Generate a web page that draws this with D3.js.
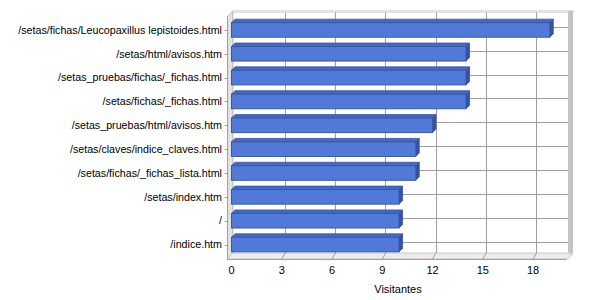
<!DOCTYPE html>
<html>
<head>
<meta charset="utf-8">
<script src="https://cdn.jsdelivr.net/npm/d3@7"></script>
<style>
  body { margin: 0; background: #fff; }
  text { font-family: "Liberation Sans", Arial, sans-serif; font-size: 11px; fill: #000; }
</style>
</head>
<body>
<div id="chart"></div>
<script>
const pages = [
  "/setas/fichas/Leucopaxillus lepistoides.html",
  "/setas/html/avisos.htm",
  "/setas_pruebas/fichas/_fichas.html",
  "/setas/fichas/_fichas.html",
  "/setas_pruebas/html/avisos.htm",
  "/setas/claves/indice_claves.html",
  "/setas/fichas/_fichas_lista.html",
  "/setas/index.htm",
  "/",
  "/indice.htm"
];
const visitors = [19, 14, 14, 14, 12, 11, 11, 10, 10, 10];
const xTicks = [0, 3, 6, 9, 12, 15, 18];

const width = 600, height = 300;
const depth = 3;      // back plane offset
const barDepth = 3.5; // bar 3d offset

const svg = d3.select("#chart").append("svg")
  .attr("width", width)
  .attr("height", height);

const x = d3.scaleLinear().domain([0, 20]).range([231.5, 566.5]);
const y = d3.scaleBand()
  .domain(pages)
  .range([18, 256.5])
  .paddingInner(0.39)
  .paddingOuter(0.195);

const x0 = x(0), x1 = x(20);
const wallTop = 11.5, floorY = 255.5, frontY = 260;

// back wall
svg.append("rect")
  .attr("x", x0 + 1.5).attr("y", wallTop)
  .attr("width", x1 + depth - x0 - 1.5).attr("height", floorY - wallTop)
  .attr("fill", "#fff").attr("stroke", "#c8c8c8");

// top lip
svg.append("rect")
  .attr("x", x0 + 0.5).attr("y", 10.5)
  .attr("width", x1 + depth + 4 - x0 - 0.5).attr("height", 2)
  .attr("fill", "#e4e4e4").attr("stroke", "#cfcfcf").attr("stroke-width", 0.5);

// right wall slab
svg.append("rect")
  .attr("x", x1 + depth - 1.5).attr("y", 11)
  .attr("width", 5).attr("height", frontY - 6 - 11)
  .attr("fill", "#c4c4c4");
svg.append("path")
  .attr("d", `M${x1 + depth - 1.5},${frontY - 6}L${x1 + depth + 3.5},${frontY - 6}L${x1 + 1},${frontY - 1.5}L${x1 - 1},${frontY - 1.5}Z`)
  .attr("fill", "#c4c4c4");

// left wall
svg.append("path")
  .attr("d", `M${x0 - 4},16.5L${x0 + 1},11.5L${x0 + 1},${floorY}L${x0 - 4},${frontY}Z`)
  .attr("fill", "#e2e2e2").attr("stroke", "#c4c4c4");

// floor
svg.append("path")
  .attr("d", `M${x0 - 4},${frontY - 1}L${x0 + 1},${floorY - 2.5}L${x1 + depth + 3},${floorY - 2.5}L${x1 + 1},${frontY - 1}Z`)
  .attr("fill", "#ececec").attr("stroke", "#c8c8c8");

// vertical gridlines on back wall + floor
const grid = svg.append("g").attr("stroke", "#a0a0a0").attr("stroke-width", 1);
grid.selectAll("line.v")
  .data(xTicks.filter(d => d > 0))
  .join("line")
  .attr("class", "v")
  .attr("x1", d => Math.round(x(d) + depth) + 0.5)
  .attr("x2", d => Math.round(x(d) + depth) + 0.5)
  .attr("y1", wallTop + 1)
  .attr("y2", floorY - 2.5);
grid.selectAll("line.f")
  .data(xTicks.filter(d => d > 0))
  .join("line")
  .attr("class", "f")
  .attr("x1", d => x(d) + depth + 0.5)
  .attr("y1", floorY - 2.5)
  .attr("x2", d => x(d))
  .attr("y2", frontY - 1);
// horizontal gridlines at category centres
grid.selectAll("line.h")
  .data(pages)
  .join("line")
  .attr("class", "h")
  .attr("x1", x0 + 1.5)
  .attr("x2", x1 + depth - 1.5)
  .attr("y1", d => Math.round(y(d) + y.bandwidth() / 2 - depth) + 0.5)
  .attr("y2", d => Math.round(y(d) + y.bandwidth() / 2 - depth) + 0.5);

// bars
const bars = svg.append("g").selectAll("g")
  .data(pages.map((p, i) => ({ page: p, value: visitors[i] })))
  .join("g");

const bh = y.bandwidth();
bars.append("path") // top face
  .attr("d", d => {
    const a = x(0), b = x(d.value), t = y(d.page);
    return `M${a},${t}L${a + barDepth},${t - barDepth}L${b + barDepth},${t - barDepth}L${b},${t}Z`;
  })
  .attr("fill", "#4468c4").attr("stroke", "#3a58a8").attr("stroke-width", 0.8);
bars.append("path") // side face
  .attr("d", d => {
    const b = x(d.value), t = y(d.page);
    return `M${b},${t}L${b + barDepth},${t - barDepth}L${b + barDepth},${t + bh - barDepth}L${b},${t + bh}Z`;
  })
  .attr("fill", "#3653a3").attr("stroke", "#33509e").attr("stroke-width", 0.8);
bars.append("rect") // front face
  .attr("x", x(0))
  .attr("y", d => y(d.page))
  .attr("width", d => x(d.value) - x(0))
  .attr("height", bh)
  .attr("fill", "#517ad8")
  .attr("stroke", "#3a58a8")
  .attr("stroke-width", 1);

// y axis
const yAxisX = 227.5;
svg.append("line")
  .attr("x1", yAxisX).attr("x2", yAxisX)
  .attr("y1", 16).attr("y2", frontY)
  .attr("stroke", "#a0a0a0");
svg.append("g").selectAll("line")
  .data(pages)
  .join("line")
  .attr("x1", yAxisX - 3).attr("x2", yAxisX)
  .attr("y1", d => Math.round(y(d) + bh / 2) + 0.5)
  .attr("y2", d => Math.round(y(d) + bh / 2) + 0.5)
  .attr("stroke", "#a0a0a0");
svg.append("g").selectAll("text")
  .data(pages)
  .join("text")
  .attr("x", 222)
  .attr("y", d => y(d) + bh / 2)
  .attr("dy", "0.35em")
  .attr("text-anchor", "end")
  .style("font-size", "10.7px")
  .text(d => d);

// x axis
svg.append("line")
  .attr("x1", yAxisX).attr("x2", x1)
  .attr("y1", frontY - 0.5).attr("y2", frontY - 0.5)
  .attr("stroke", "#a0a0a0");
svg.append("g").selectAll("text")
  .data(xTicks)
  .join("text")
  .attr("x", d => x(d))
  .attr("y", 270)
  .attr("dy", "0.35em")
  .attr("text-anchor", "middle")
  .text(d => d);

svg.append("text")
  .attr("x", 398)
  .attr("y", 289)
  .attr("dy", "0.35em")
  .attr("text-anchor", "middle")
  .text("Visitantes");
</script>
</body>
</html>
